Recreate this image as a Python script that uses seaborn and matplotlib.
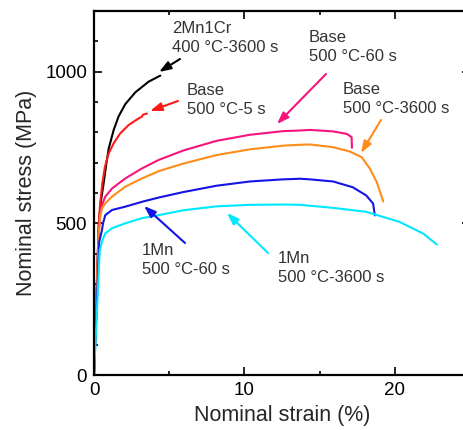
import matplotlib
matplotlib.use("Agg")
import matplotlib.pyplot as plt
import seaborn as sns
from matplotlib.ticker import MultipleLocator

# ---- data ----
black_strain = [0, 0.32, 0.45, 0.64, 0.8, 0.98, 1.31, 1.64, 2.08, 2.75, 3.63, 4.41]
black_stress = [0, 500, 570, 632, 690, 747, 808, 853, 893, 932, 967, 987]

red_strain = [0, 0.30, 0.4, 0.55, 0.72, 0.98, 1.31, 1.75, 2.30, 2.97, 3.2, 3.25, 3.52]
red_stress = [0, 480, 560, 630, 685, 731, 764, 797, 824, 846, 852, 858, 862]

pink_strain = [0, 0.32, 0.42, 0.53, 0.75, 1.2, 2.08, 3.19, 4.3, 5.93, 8.15, 10.37,
               12.58, 13.7, 14.35, 15.9, 16.8, 17.13, 17.15]
pink_stress = [0, 470, 530, 560, 588, 615, 648, 681, 709, 740, 772, 792,
               804, 806, 808, 803, 795, 784, 749]

orange_strain = [0, 0.32, 0.42, 0.53, 0.75, 1.2, 2.08, 3.19, 4.3, 5.93, 8.15, 10.37, 12.58,
                 13.7, 14.35, 15.9, 17.0, 17.8, 18.35, 18.8, 19.23]
orange_stress = [0, 470, 525, 550, 566, 588, 621, 648, 672, 697, 725, 744, 756,
                 759, 760, 751, 737, 718, 680, 636, 572]

blue_strain = [0, 0.35, 0.53, 0.6, 0.75, 1.2, 2.08, 3.19, 4.3, 5.93, 8.15, 10.37, 12.58,
               13.7, 14.35, 15.9, 17.2, 18.1, 18.56, 18.67]
blue_stress = [0, 440, 478, 500, 527, 544, 555, 571, 585, 603, 624, 638, 645,
               647, 645, 638, 619, 592, 565, 526]

cyan_strain = [0, 0.38, 0.53, 0.75, 1.2, 2.08, 3.19, 4.3, 5.93, 8.15, 10.37, 12.58,
               13.7, 15.9, 18.1, 20.3, 21.9, 22.8]
cyan_stress = [0, 410, 440, 467, 484, 500, 517, 527, 543, 556, 561, 562,
               561, 551, 538, 505, 466, 430]

series = [
    (black_strain, black_stress, "#000000"),
    (red_strain, red_stress, "#ff1a1a"),
    (pink_strain, pink_stress, "#f5147c"),
    (orange_strain, orange_stress, "#ff8c1a"),
    (blue_strain, blue_stress, "#1414e6"),
    (cyan_strain, cyan_stress, "#00e8ff"),
]

W, H = 463, 430
sns.set_style("ticks")
plt.rcParams["font.family"] = ["Liberation Sans", "DejaVu Sans"]

fig = plt.figure(figsize=(W / 100, H / 100), dpi=100)
ax = fig.add_axes([94 / W, 55 / H, 376 / W, 364 / H])

for xs, ys, c in series:
    sns.lineplot(x=xs, y=ys, color=c, sort=False, estimator=None, lw=1.5, ax=ax)

ax.set_xlim(0, 25)
ax.set_ylim(0, 1200)
ax.xaxis.set_major_locator(MultipleLocator(10))
ax.xaxis.set_minor_locator(MultipleLocator(5))
ax.yaxis.set_major_locator(MultipleLocator(500))
ax.yaxis.set_minor_locator(MultipleLocator(100))
ax.tick_params(which="both", direction="in", top=True, right=True, width=1.2, colors="black")
ax.tick_params(which="major", length=6, labelsize=13.5, pad=5)
ax.tick_params(which="minor", length=3)
for s in ax.spines.values():
    s.set_linewidth(1.6)
    s.set_color("black")

ax.set_xlabel("Nominal strain (%)", fontsize=15.5, labelpad=4)
ax.set_ylabel("Nominal stress (MPa)", fontsize=15.5, labelpad=6)


def px(x, y):
    # convert pixel position in the figure to data coordinates
    return ((x - 94) / 376 * 25, (375 - y) / 364 * 1200)


txt_color = "#333333"
notes = [
    ("2Mn1Cr\n400 °C-3600 s", 172, 21, (180, 59), (159, 72), "#000000"),
    ("Base\n500 °C-5 s", 187, 83, (178, 101), (150, 111), "#ff1a1a"),
    ("Base\n500 °C-60 s", 309, 30, (326, 74), (277, 124), "#f5147c"),
    ("Base\n500 °C-3600 s", 343, 82, (381, 120), (361, 153), "#ff8c1a"),
    ("1Mn\n500 °C-60 s", 142, 243, (185, 243), (144, 206), "#1414e6"),
    ("1Mn\n500 °C-3600 s", 278, 251, (268, 253), (227, 213), "#00e8ff"),
]
for text, tx, ty, tail, head, c in notes:
    ax.text(*px(tx, ty), text, fontsize=12, color=txt_color, ha="left", va="top",
            linespacing=1.35)
    ax.annotate("", xy=px(*head), xytext=px(*tail),
                arrowprops=dict(arrowstyle="-|>,head_length=0.7,head_width=0.25",
                                color=c, lw=1.5, shrinkA=0, shrinkB=0))

fig.savefig("out.png", dpi=100)
